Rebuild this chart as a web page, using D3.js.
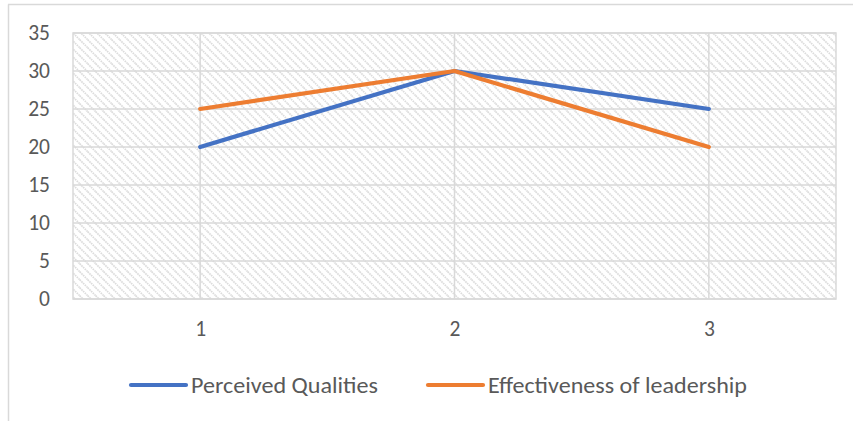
<!DOCTYPE html>
<html>
<head>
<meta charset="utf-8">
<script src="https://cdn.jsdelivr.net/npm/d3@7"></script>
<style>
  html, body { margin: 0; padding: 0; background: #fff; }
  svg { display: block; }
  text { font-family: Carlito, Calibri, Lato, "Open Sans", sans-serif; fill: #595959; }
</style>
</head>
<body>
<svg id="chart" width="853" height="421"></svg>
<script>
// Chart data
const categories = ["1", "2", "3"];
const perceivedQualities = [20, 30, 25];
const effectivenessOfLeadership = [25, 30, 20];
const yTickValues = [0, 5, 10, 15, 20, 25, 30, 35];

const seriesList = [
  { name: "Perceived Qualities", values: perceivedQualities, color: "#4472C4" },
  { name: "Effectiveness of leadership", values: effectivenessOfLeadership, color: "#ED7D31" }
];

const width = 853, height = 421;
const plot = { left: 73, right: 836, top: 33, bottom: 299 };
const gridColor = "#d9d9d9";
const fontStack = "Carlito, Calibri, Lato, 'Open Sans', sans-serif";

const svg = d3.select("#chart");

// Diagonal hatch fill for the plot area
const defs = svg.append("defs");
const pattern = defs.append("pattern")
  .attr("id", "hatch")
  .attr("patternUnits", "userSpaceOnUse")
  .attr("width", 8)
  .attr("height", 8);
pattern.append("rect").attr("width", 8).attr("height", 8).attr("fill", "#fff");
pattern.append("path")
  .attr("d", "M-2,-2 L10,10 M-2,6 L2,10 M6,-2 L10,2")
  .attr("stroke", "#dcdcdc")
  .attr("stroke-width", 1.7)
  .attr("stroke-dasharray", "1.6,0.8")
  .attr("fill", "none");

// Outer chart frame (top and left edges)
svg.append("line").attr("x1", 8.5).attr("x2", 8.5).attr("y1", 4.5).attr("y2", height)
  .attr("stroke", gridColor).attr("stroke-width", 1.5);
svg.append("line").attr("x1", 8).attr("x2", width).attr("y1", 4.5).attr("y2", 4.5)
  .attr("stroke", gridColor).attr("stroke-width", 1.5);

const x = d3.scalePoint()
  .domain(categories)
  .range([plot.left, plot.right])
  .padding(0.5);

const y = d3.scaleLinear()
  .domain([0, 35])
  .range([plot.bottom, plot.top]);

// Plot background
svg.append("rect")
  .attr("x", plot.left).attr("y", plot.top)
  .attr("width", plot.right - plot.left)
  .attr("height", plot.bottom - plot.top)
  .attr("fill", "url(#hatch)");

// Horizontal gridlines
svg.append("g").selectAll("line")
  .data(yTickValues)
  .join("line")
  .attr("x1", plot.left).attr("x2", plot.right)
  .attr("y1", d => y(d)).attr("y2", d => y(d))
  .attr("stroke", gridColor).attr("stroke-width", 1.5);

// Vertical gridlines at each category
svg.append("g").selectAll("line")
  .data(categories)
  .join("line")
  .attr("x1", d => x(d)).attr("x2", d => x(d))
  .attr("y1", plot.top).attr("y2", plot.bottom)
  .attr("stroke", gridColor).attr("stroke-width", 1.5);

// Plot border
svg.append("rect")
  .attr("x", plot.left).attr("y", plot.top)
  .attr("width", plot.right - plot.left)
  .attr("height", plot.bottom - plot.top)
  .attr("fill", "none")
  .attr("stroke", gridColor).attr("stroke-width", 1.5);

// Y axis labels
const yAxis = d3.axisLeft(y).tickValues(yTickValues).tickSize(0).tickPadding(0);
const gy = svg.append("g").attr("transform", `translate(50,0)`).call(yAxis);
gy.select(".domain").remove();
gy.selectAll("text").attr("font-size", 21.5).attr("fill", "#595959")
  .style("font-family", fontStack);

// X axis labels
const xAxis = d3.axisBottom(x).tickSize(0).tickPadding(0);
const gx = svg.append("g").attr("transform", `translate(0,321)`).call(xAxis);
gx.select(".domain").remove();
gx.selectAll("text").attr("font-size", 21.5).attr("fill", "#595959")
  .style("font-family", fontStack);

// Series lines
const line = d3.line()
  .x((d, i) => x(categories[i]))
  .y(d => y(d));

svg.append("g").selectAll("path")
  .data(seriesList)
  .join("path")
  .attr("d", d => line(d.values))
  .attr("fill", "none")
  .attr("stroke", d => d.color)
  .attr("stroke-width", 4.2)
  .attr("stroke-linejoin", "round")
  .attr("stroke-linecap", "round");

// Legend
const legendX = [131, 428];
const legendTextWidth = [187, 259];
const legend = svg.append("g").selectAll("g")
  .data(seriesList)
  .join("g")
  .attr("transform", (d, i) => `translate(${legendX[i]},385)`);
legend.append("line")
  .attr("x1", 0).attr("x2", 55).attr("y1", 0).attr("y2", 0)
  .attr("stroke", d => d.color).attr("stroke-width", 4.2)
  .attr("stroke-linecap", "round");
legend.append("text")
  .attr("x", 60).attr("y", 0)
  .attr("dy", "0.36em")
  .attr("font-size", 23)
  .attr("textLength", (d, i) => legendTextWidth[i])
  .attr("lengthAdjust", "spacingAndGlyphs")
  .text(d => d.name);
</script>
</body>
</html>
